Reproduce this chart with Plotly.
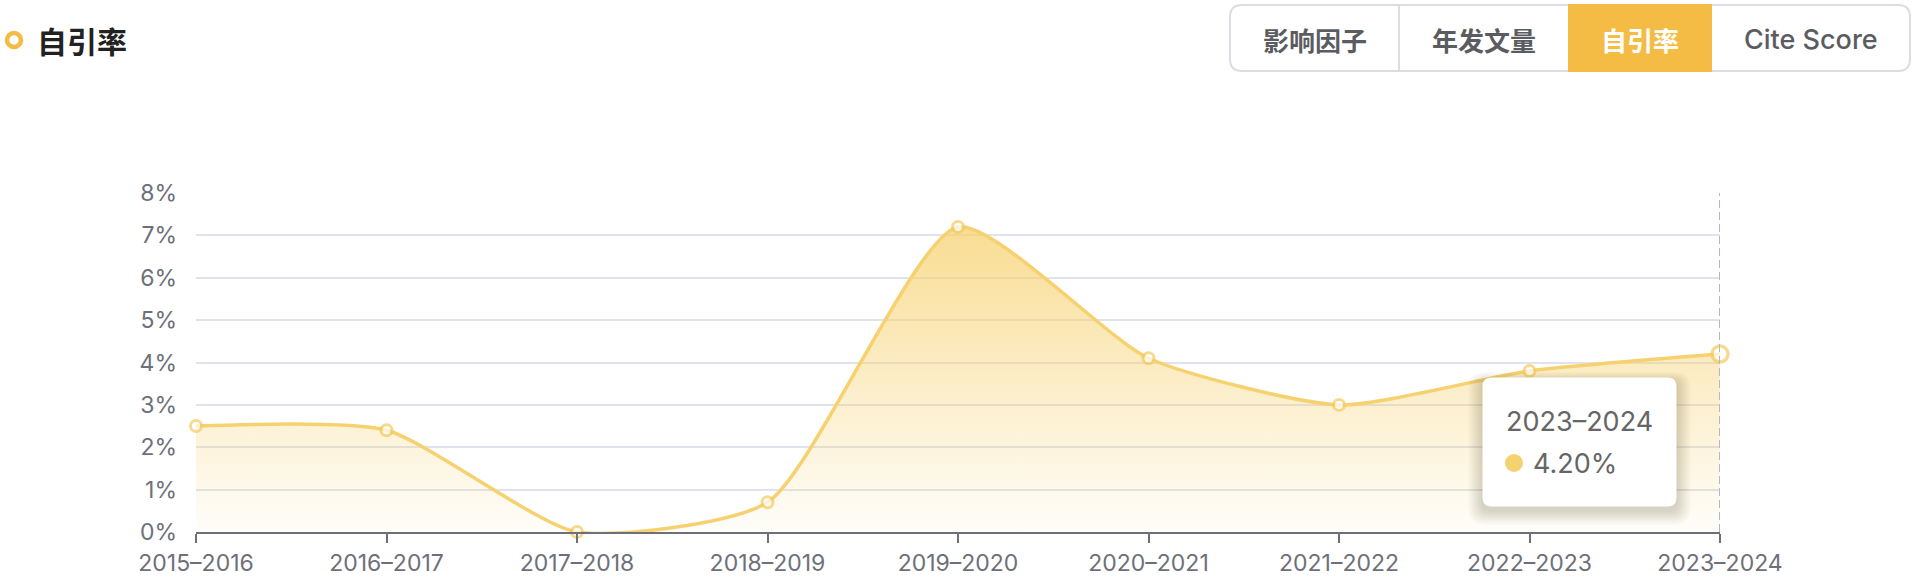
import plotly.graph_objects as go

# ---- data ----
categories = ["2015–2016", "2016–2017", "2017–2018", "2018–2019", "2019–2020",
              "2020–2021", "2021–2022", "2022–2023", "2023–2024"]
self_cite_rate = [2.5, 2.4, 0.0, 0.7, 7.2, 4.1, 3.0, 3.8, 4.2]
y_ticks = [0, 1, 2, 3, 4, 5, 6, 7, 8]
y_tick_labels = [f"{v}%" for v in y_ticks]
buttons = ["影响因子", "年发文量", "自引率", "Cite Score"]
active_button = "自引率"
title_text = "自引率"

# ---- geometry (pixels) ----
W, H = 1916, 576
L, R, T, B = 196, 1720, 193, 532   # plot area
PW, PH = R - L, B - T

def px(x):
    return (x - L) / PW

def py(y):
    return (B - y) / PH

def rrect(x0, y0, x1, y1, r):
    pts = [
        f"M {px(x0 + r)},{py(y0)}",
        f"L {px(x1 - r)},{py(y0)}",
        f"Q {px(x1)},{py(y0)} {px(x1)},{py(y0 + r)}",
        f"L {px(x1)},{py(y1 - r)}",
        f"Q {px(x1)},{py(y1)} {px(x1 - r)},{py(y1)}",
        f"L {px(x0 + r)},{py(y1)}",
        f"Q {px(x0)},{py(y1)} {px(x0)},{py(y1 - r)}",
        f"L {px(x0)},{py(y0 + r)}",
        f"Q {px(x0)},{py(y0)} {px(x0 + r)},{py(y0)}",
        "Z",
    ]
    return " ".join(pts)

YELLOW = "#F6D16F"
MARK = "#F4CB60"
ACTIVE = "#F4BC45"
FONT = "Inter, Noto Sans CJK SC, sans-serif"
CJK = "Noto Sans CJK SC, sans-serif"

fig = go.Figure()

fig.add_trace(go.Scatter(
    x=categories, y=self_cite_rate,
    mode="lines",
    line=dict(color=YELLOW, width=3.5, shape="spline", smoothing=0.6),
    fill="tozeroy",
    fillgradient=dict(type="vertical",
                      colorscale=[[0, "rgba(246,209,111,0.03)"],
                                  [1, "rgba(246,209,111,0.75)"]]),
    hoverinfo="skip",
    showlegend=False,
))

sizes = [11] * (len(categories) - 1) + [16]
lw = [3] * (len(categories) - 1) + [3.5]
fig.add_trace(go.Scatter(
    x=categories, y=self_cite_rate,
    mode="markers",
    marker=dict(size=sizes, color="white", line=dict(color=MARK, width=lw)),
    hoverinfo="skip",
    showlegend=False,
    cliponaxis=False,
))

shapes = []
# axis pointer dashed line
shapes.append(dict(type="line", xref="x", yref="y",
                   x0=categories[-1], x1=categories[-1], y0=0, y1=y_ticks[-1],
                   line=dict(color="#B4B7C4", width=2, dash="8px,4px"), layer="above"))

# tooltip shadow + box
tx0, ty0, tx1, ty1 = 1483, 378, 1676, 506
for i in range(8, 0, -1):
    shapes.append(dict(type="path", xref="paper", yref="paper",
                       path=rrect(tx0 - i * 1.8, ty0 - i * 1.2 + 4, tx1 + i * 1.8, ty1 + i * 1.8 + 4, 8 + i),
                       fillcolor="rgba(60,50,20,0.022)", line=dict(width=0), layer="above"))
shapes.append(dict(type="path", xref="paper", yref="paper",
                   path=rrect(tx0, ty0, tx1, ty1, 8),
                   fillcolor="white", line=dict(color="white", width=1), layer="above"))
# tooltip dot
shapes.append(dict(type="circle", xref="paper", yref="paper",
                   x0=px(1505), x1=px(1523), y0=py(472), y1=py(454),
                   fillcolor=YELLOW, line=dict(width=0), layer="above"))

# title icon (ring)
shapes.append(dict(type="circle", xref="paper", yref="paper",
                   x0=px(7), x1=px(21), y0=py(47), y1=py(33),
                   fillcolor="white", line=dict(color=ACTIVE, width=4.5), layer="above"))

# button group
bx = [1230, 1399, 1568, 1712, 1910]
by0, by1 = 5, 71
shapes.append(dict(type="path", xref="paper", yref="paper",
                   path=rrect(bx[0], by0, bx[-1], by1, 12),
                   fillcolor="white", line=dict(color="#DCDDE3", width=2), layer="above"))
ai = buttons.index(active_button)
shapes.append(dict(type="rect", xref="paper", yref="paper",
                   x0=px(bx[ai]), x1=px(bx[ai + 1]), y0=py(by1 + 1), y1=py(by0 - 1),
                   fillcolor=ACTIVE, line=dict(width=0), layer="above"))
for k in range(1, len(bx) - 1):
    if k in (ai, ai + 1):
        continue
    shapes.append(dict(type="line", xref="paper", yref="paper",
                       x0=px(bx[k]), x1=px(bx[k]), y0=py(by1), y1=py(by0),
                       line=dict(color="#DCDDE3", width=2), layer="above"))

annotations = []
annotations.append(dict(xref="paper", yref="paper", x=px(35), y=py(40), text=f"<b>{title_text}</b>",
                        showarrow=False, xanchor="left", yanchor="middle",
                        font=dict(family=CJK, size=30, color="#222222")))
for k, name in enumerate(buttons):
    active = (k == ai)
    cjk = name != "Cite Score"
    annotations.append(dict(xref="paper", yref="paper", x=px((bx[k] + bx[k + 1]) / 2), y=py(39),
                            text=f"<b>{name}</b>" if cjk else name,
                            showarrow=False, xanchor="center", yanchor="middle",
                            font=dict(family=CJK if cjk else FONT, size=26 if cjk else 27,
                                      weight=None if cjk else 500,
                                      color="white" if active else "#5B5C61")))
# tooltip text
annotations.append(dict(xref="paper", yref="paper", x=px(1504), y=py(421), text=categories[-1],
                        showarrow=False, xanchor="left", yanchor="middle",
                        font=dict(family=FONT, size=27, color="#666666")))
annotations.append(dict(xref="paper", yref="paper", x=px(1531), y=py(463),
                        text=f"{self_cite_rate[-1]:.2f}%",
                        showarrow=False, xanchor="left", yanchor="middle",
                        font=dict(family=FONT, size=27, color="#666666")))

fig.update_layout(
    width=W, height=H, autosize=False,
    margin=dict(l=L, r=W - R, t=T, b=H - B, pad=0),
    paper_bgcolor="white", plot_bgcolor="white",
    hovermode=False,
    shapes=shapes, annotations=annotations,
    font=dict(family=FONT, color="#6E7079"),
    xaxis=dict(type="category", range=[0, len(categories) - 1], automargin=False,
               showgrid=False, showline=True, linecolor="#6E7079", linewidth=2,
               ticks="outside", ticklen=9, tickwidth=2, tickcolor="#6E7079",
               tickfont=dict(size=23, color="#6E7079", family=FONT),
               zeroline=False, fixedrange=True),
    yaxis=dict(range=[0, 8], tickvals=y_ticks, ticktext=y_tick_labels, automargin=False,
               showgrid=True, gridcolor="#E0E3EE", gridwidth=1.5,
               showline=False, zeroline=False, ticks="", ticklabelstandoff=18,
               tickfont=dict(size=23, color="#6E7079", family=FONT), fixedrange=True),
)

fig.write_html("out.html", config={"displayModeBar": False},
               post_script="document.body.style.margin='0';document.body.style.overflow='hidden';")
